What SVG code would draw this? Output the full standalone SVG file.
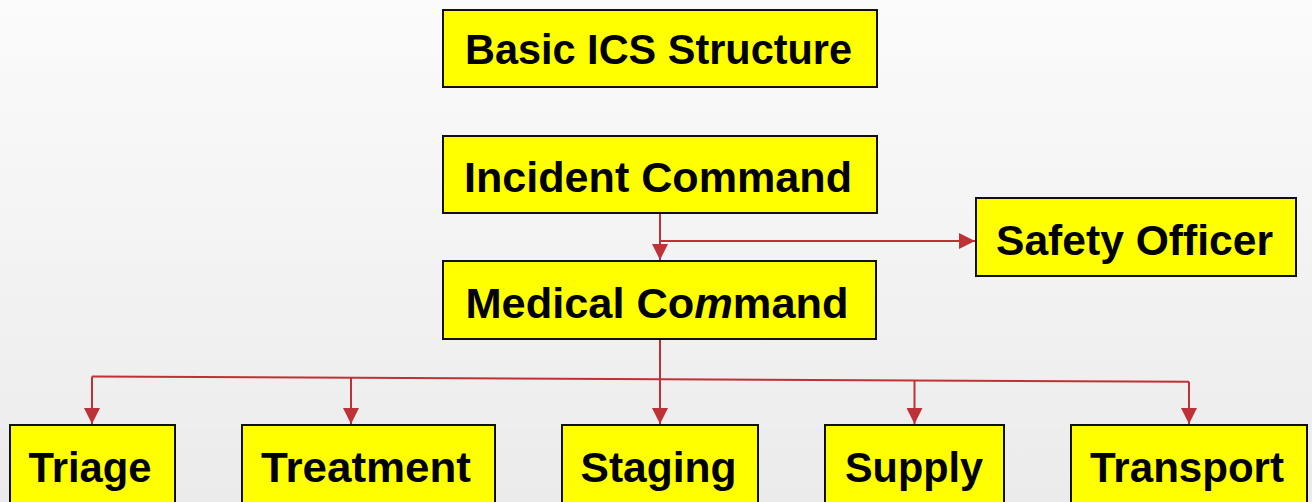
<svg xmlns="http://www.w3.org/2000/svg" width="1312" height="502" viewBox="0 0 1312 502">
  <defs>
    <linearGradient id="bg" x1="0" y1="0" x2="0" y2="1">
      <stop offset="0" stop-color="#fbfbfb"/>
      <stop offset="1" stop-color="#ebebeb"/>
    </linearGradient>
    <marker id="arrow" viewBox="0 0 16 16" refX="16" refY="8" markerWidth="16" markerHeight="16" markerUnits="userSpaceOnUse" orient="auto">
      <path d="M0,0 L16,8 L0,16 Z" fill="#be3237"/>
    </marker>
    <style>
      .box { fill: #ffff00; stroke: #111; stroke-width: 2; }
      .lbl { font-family: "Liberation Sans", Arial, sans-serif; font-weight: bold; font-size: 43px; fill: #000; text-anchor: middle; }
      .sm { font-size: 42px; }
      .link { fill: none; stroke: #be3237; stroke-width: 2; }
      .arr { marker-end: url(#arrow); }
    </style>
  </defs>

  <rect width="1312" height="502" fill="url(#bg)"/>

  <!-- connectors -->
  <g id="connectors">
    <path class="link arr" d="M660,213 V260"/>
    <path class="link arr" d="M660,241 H975"/>
    <path class="link arr" d="M660,339 V424"/>
    <path class="link" d="M92,376.5 L1189,381.7"/>
    <path class="link arr" d="M92,376.5 V424"/>
    <path class="link arr" d="M351,377.7 V424"/>
    <path class="link arr" d="M914.5,380.3 V424"/>
    <path class="link arr" d="M1189,381.7 V424"/>
  </g>

  <g id="title">
    <rect class="box" x="443" y="10" width="434" height="77"/>
    <text class="lbl" x="658.5" y="64" textLength="387" lengthAdjust="spacingAndGlyphs">Basic ICS Structure</text>
  </g>

  <g id="incident-command">
    <rect class="box" x="443" y="136" width="434" height="77"/>
    <text class="lbl" x="658" y="192" textLength="388" lengthAdjust="spacingAndGlyphs">Incident Command</text>
  </g>

  <g id="safety-officer">
    <rect class="box" x="976" y="198" width="320" height="78"/>
    <text class="lbl" x="1134.5" y="255" textLength="277" lengthAdjust="spacingAndGlyphs">Safety Officer</text>
  </g>

  <g id="medical-command">
    <rect class="box" x="443" y="261" width="433" height="78"/>
    <text class="lbl" x="657" y="318" textLength="383" lengthAdjust="spacingAndGlyphs">Medical Co<tspan font-style="italic">m</tspan>mand</text>
  </g>

  <g id="triage">
    <rect class="box" x="10" y="425" width="165" height="90"/>
    <text class="lbl sm" x="90" y="482" textLength="123" lengthAdjust="spacingAndGlyphs">Triage</text>
  </g>

  <g id="treatment">
    <rect class="box" x="242" y="425" width="253" height="90"/>
    <text class="lbl sm" x="366" y="482" textLength="210" lengthAdjust="spacingAndGlyphs">Treatment</text>
  </g>

  <g id="staging">
    <rect class="box" x="562" y="425" width="196" height="90"/>
    <text class="lbl sm" x="658.5" y="482" textLength="156" lengthAdjust="spacingAndGlyphs">Staging</text>
  </g>

  <g id="supply">
    <rect class="box" x="825" y="425" width="179" height="90"/>
    <text class="lbl sm" x="914" y="482" textLength="138" lengthAdjust="spacingAndGlyphs">Supply</text>
  </g>

  <g id="transport">
    <rect class="box" x="1071" y="425" width="236" height="90"/>
    <text class="lbl sm" x="1187" y="482" textLength="194" lengthAdjust="spacingAndGlyphs">Transport</text>
  </g>
</svg>
